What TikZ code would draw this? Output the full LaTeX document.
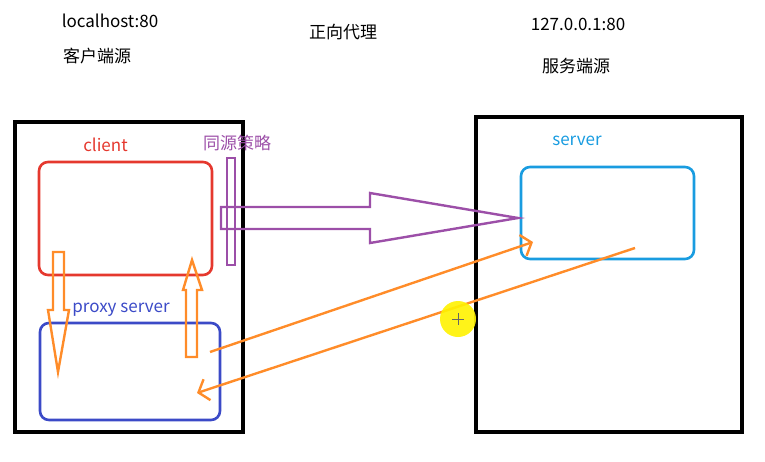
\documentclass[tikz,border=0pt]{standalone}
\usepackage{fontspec}
\setmainfont{Noto Sans CJK SC}
\usetikzlibrary{arrows.meta}
\usetikzlibrary{positioning}
\tikzset{roundbox/.style = {draw, line width = 2.6, rounded corners = 9}}
\tikzset{label/.style = {font = \fontsize{17}{20}\selectfont, inner sep = 0}}
\tikzset{blockarrow/.style = {line width = 2.4, join = miter}}
\tikzset{ray/.style = {line width = 2.4, -{Straight Barb[length = 9, width = 22, line width = 2.4]}}}
\definecolor{mred}{rgb}{0.9, 0.22, 0.18}
\definecolor{mblue}{rgb}{0.23, 0.29, 0.78}
\definecolor{sblue}{rgb}{0.1, 0.61, 0.88}
\definecolor{mpurple}{rgb}{0.61, 0.31, 0.66}
\definecolor{morange}{rgb}{1.0, 0.55, 0.16}
\begin{document}
\begin{tikzpicture}[x = 1pt, y = -1pt]
    \useasboundingbox (0, 0) rectangle (765, 461);

    \draw [line width = 3.2] (15, 122) rectangle (243, 432);
    \draw [line width = 3.2] (476, 117) rectangle (742, 432);

    \node [label] (localhost) at (110, 21) {localhost:80};
    \node [label] (clientorigin) at (97, 56) {客户端源};
    \node [label] (forward) at (343, 32) {正向代理};
    \node [label] (localip) at (578, 24) {127.0.0.1:80};
    \node [label] (serverorigin) at (576, 66) {服务端源};

    \node [roundbox, mred, minimum width = 173, minimum height = 113] (client) at (125.5, 218.5) {};
    \node [roundbox, mblue, minimum width = 180, minimum height = 97] (proxy) at (130, 371.5) {};
    \node [roundbox, sblue, minimum width = 173, minimum height = 92] (server) at (607.5, 213) {};

    \node [label, mred, above = 9pt of client, xshift = -20pt] {client};
    \node [label, mblue, above = 5pt of proxy, xshift = -9pt] {proxy server};
    \node [label, sblue] at (577, 141) {server};

    \node [draw, mpurple, line width = 2.4, minimum width = 8, minimum height = 107] (policy) at (231, 211.5) {};
    \node [label, mpurple] at (237, 143) {同源策略};

    \draw [blockarrow, mpurple] (221, 207) -- (370, 207) -- (370, 193) -- (518, 218)
        -- (370, 243) -- (370, 229) -- (221, 229) -- cycle;

    \draw [blockarrow, morange] (53, 252) -- (64, 252) -- (64, 310) -- (69, 310) -- (58, 372)
        -- (48, 310) -- (53, 310) -- cycle;
    \draw [blockarrow, morange] (186, 357) -- (197, 357) -- (197, 290) -- (202, 290) -- (192, 260)
        -- (183, 290) -- (186, 290) -- cycle;

    \coordinate (proxyout) at (210, 352);
    \coordinate (serverin) at (533, 242);
    \coordinate (serverout) at (635, 248);
    \coordinate (proxyin) at (197, 393);
    \draw [ray, morange] (proxyout) -- (serverin);
    \draw [ray, morange] (serverout) -- (proxyin);

    \fill [yellow, opacity = 0.9] (458, 319) circle (18);
    \draw [black!60, line width = 0.6] (452, 319) -- (464, 319) (458, 313) -- (458, 325);
  \end{tikzpicture}
\end{document}
